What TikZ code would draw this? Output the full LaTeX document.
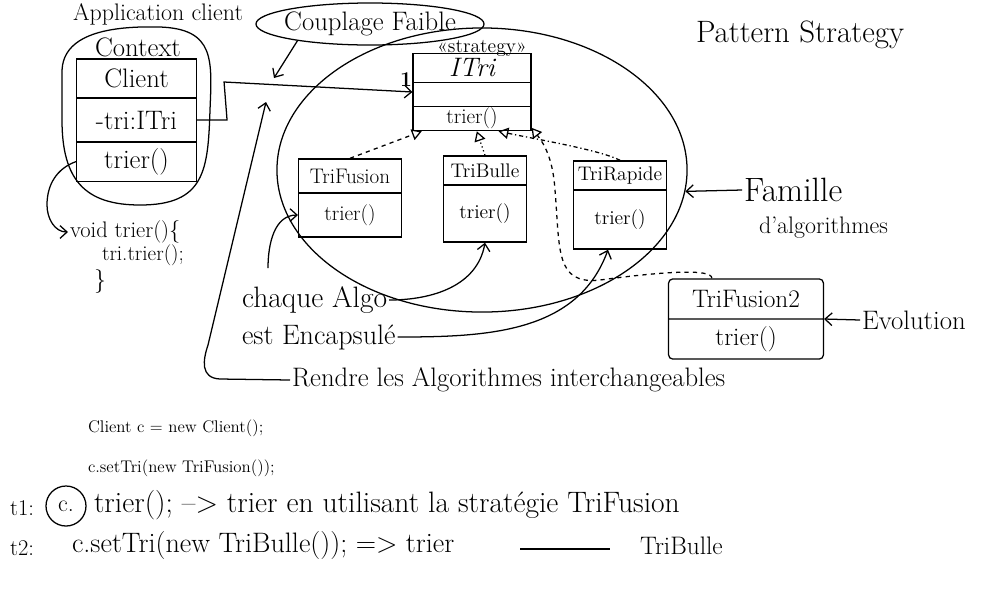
\documentclass[tikz,border=0pt]{standalone}
\usepackage{amsmath}
\usepackage{amssymb}
\usepackage{tikz}
\usetikzlibrary{shapes.multipart,shapes.geometric,arrows.meta}

\newcommand{\classrow}[3]{\parbox[c][#2][c]{#1}{\centering #3}}

\begin{document}
\begin{tikzpicture}[x=0.025cm, y=-0.025cm, line width=0.9pt,
    >={Straight Barb[length=5pt,width=9pt]},
    classbox/.style={rectangle split, draw, inner sep=0pt},
    hand/.style={font=\fontsize{#1}{#1}\selectfont, inner sep=1pt},
    real/.style={dashed, -{Triangle[open,length=7pt,width=8pt]}}]
            \useasboundingbox (0,0) rectangle (983,588);
            % Define titles
            \node[hand=17] (app) at (158,14) {Application client};
            \node[hand=22] (pattern) at (800,35) {Pattern Strategy};
            \node[ellipse, draw, hand=19, inner sep=0pt, minimum width=5.7cm, minimum height=1.05cm] (cf) at (370,24) {\makebox[4cm]{Couplage Faible}};
            % Define context (client side)
            \draw (62,72) .. controls (62,30) and (120,26) .. (160,27) .. controls (215,29) and (212,60) .. (210,110) .. controls (208,170) and (205,205) .. (140,205) .. controls (85,205) and (62,180) .. (62,120) -- cycle;
            \node[hand=19] (context) at (138,47) {Context};
            \node[classbox, rectangle split parts=3, hand=19] (client) at (136.5,120)
                {\classrow{2.925cm}{0.875cm}{Client}\nodepart{two}\classrow{2.925cm}{1cm}{-tri:ITri}\nodepart{three}\classrow{2.925cm}{0.875cm}{trier()}};
            \node[hand=16, anchor=west] (voidtxt) at (68,232) {void trier()\{};
            \node[hand=15, anchor=west] (calltxt) at (100,255) {tri.trier();};
            \node[hand=17] (brace) at (100,282) {\}};
            % Define strategy family
            \node[ellipse, draw, inner sep=0pt, minimum width=10.25cm, minimum height=7.1cm] (famille) at (482,170) {};
            \node[hand=14] (stereo) at (482,48) {«strategy»};
            \node[classbox, rectangle split parts=3, hand=15] (itri) at (472,92)
                {\classrow{2.875cm}{0.625cm}{\fontsize{19}{19}\selectfont\itshape ITri}\nodepart{two}\classrow{2.875cm}{0.5cm}{}\nodepart{three}\classrow{2.875cm}{0.5cm}{trier()}};
            \node[classbox, rectangle split parts=2, hand=15] (trifusion) at (350,198)
                {\classrow{2.5cm}{0.75cm}{TriFusion}\nodepart{two}\classrow{2.5cm}{1cm}{trier()}};
            \node[classbox, rectangle split parts=2, hand=14] (tribulle) at (485,199)
                {\classrow{2cm}{0.625cm}{TriBulle}\nodepart{two}\classrow{2cm}{1.325cm}{trier()}};
            \node[classbox, rectangle split parts=2, hand=14] (trirapide) at (620,205)
                {\classrow{2.25cm}{0.625cm}{TriRapide}\nodepart{two}\classrow{2.25cm}{1.375cm}{trier()}};
            \node[classbox, rectangle split parts=2, hand=18, rounded corners=3pt] (trifusion2) at (746,319)
                {\classrow{3.8cm}{0.9cm}{TriFusion2}\nodepart{two}\classrow{3.8cm}{0.9cm}{trier()}};
            % Define remarks
            \node[hand=24, anchor=west] (fam1) at (742,190) {Famille};
            \node[hand=17, anchor=west] (fam2) at (757,228) {d'algorithmes};
            \node[hand=19, anchor=west] (evol) at (860,320) {Evolution};
            \node[hand=21, anchor=west] (chaque) at (240,300) {chaque Algo};
            \node[hand=20, anchor=west] (encaps) at (240,337) {est Encapsulé};
            \node[hand=19, anchor=west] (rendre) at (290,380) {Rendre les Algorithmes interchangeables};
            \node[font=\bfseries\fontsize{15}{15}\selectfont, inner sep=1pt] (mult) at (406,80) {1};
            % Define usage code
            \node[hand=12, anchor=west] (code1) at (86,428) {Client c = new Client();};
            \node[hand=12, anchor=west] (code2) at (86,468) {c.setTri(new TriFusion());};
            \node[hand=16, anchor=west] (t1) at (8,508) {t1:};
            \node[circle, draw, hand=17, inner sep=3pt, minimum size=1cm] (cdot) at (66,506) {c.};
            \node[hand=21, anchor=west] (t1txt) at (92,505) {trier(); --> trier en utilisant la stratégie TriFusion};
            \node[hand=16, anchor=west] (t2) at (8,548) {t2:};
            \node[hand=20, anchor=west] (t2txt) at (70,545) {c.setTri(new TriBulle()); => trier};
            \node[hand=18, anchor=west] (t2end) at (638,546) {TriBulle};
            \draw (520,549) -- (610,549);
            % Free ends
            \coordinate (cfend) at (274,78);
            \coordinate (interch) at (266,102);
            \coordinate (algo1) at (268,268);
            % Draw edges
            \draw[->] (client.two east) -- ++(30,0) -- ++(-3,-38) -- (itri.west);
            \draw[->] (cf.193) -- (cfend);
            \draw[->] (client.three west) to[out=200,in=90] (47,205) to[out=-90,in=180] (voidtxt.west);
            \draw[real] (trifusion.north) -- (itri.218);
            \draw[real, dotted] (tribulle.north) -- (itri.277);
            \draw[real, dash dot] (trirapide.north) .. controls (600,150) and (540,140) .. (itri.304);
            \draw[real] (trifusion2.130) .. controls (712,268) and (660,272) .. (600,280) .. controls (555,285) and (560,250) .. (555,190) .. controls (553,160) and (545,145) .. (itri.329);
            \draw[->] (fam1.west) -- (famille.-6);
            \draw[->] (evol.west) -- (trifusion2.east);
            \draw[->] (algo1) to[out=90,in=180] (trifusion.two west);
            \draw[->] (chaque.east) to[out=0,in=-100] (tribulle.south);
            \draw[->] (encaps.east) to[out=0,in=-110] (trirapide.255);
            \draw[->] (rendre.west) -- (220,379) .. controls (200,378) and (203,360) .. (208,345) -- (interch);
        \end{tikzpicture}
\end{document}
